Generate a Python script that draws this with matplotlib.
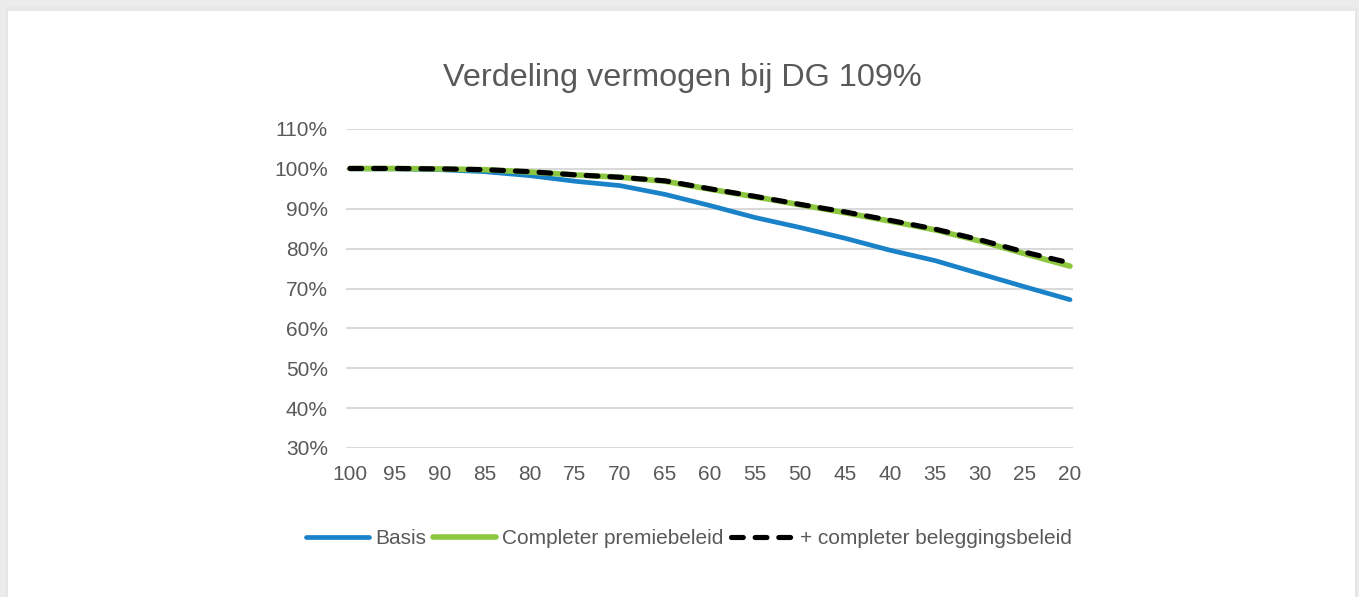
import matplotlib
matplotlib.use("Agg")
import matplotlib.pyplot as plt
from matplotlib.patches import Rectangle
from matplotlib.ticker import FuncFormatter

# Data
ages = [100, 95, 90, 85, 80, 75, 70, 65, 60, 55, 50, 45, 40, 35, 30, 25, 20]
basis = [100.0, 100.0, 99.8, 99.3, 98.3, 96.9, 95.8, 93.6, 90.8, 87.8, 85.3,
         82.6, 79.6, 77.0, 73.7, 70.4, 67.2]
premie = [100.1, 100.1, 100.0, 99.8, 99.2, 98.5, 97.9, 96.9, 94.9, 93.0, 91.0,
          89.0, 86.9, 84.7, 81.9, 78.7, 75.6]
belegging = [100.1, 100.1, 100.0, 99.8, 99.3, 98.5, 97.9, 97.0, 95.0, 93.1, 91.1,
             89.2, 87.1, 84.9, 82.2, 79.1, 76.4]
labels = ["Basis", "Completer premiebeleid", "+ completer beleggingsbeleid"]

plt.rcParams['font.family'] = ['Liberation Sans', 'DejaVu Sans']

W, H = 1359, 597
fig = plt.figure(figsize=(W / 100, H / 100), dpi=100)
fig.patch.set_facecolor('#ececec')

# white card with a soft shadow
for i, c in enumerate(['#e2e2e2', '#e8e8e8']):
    fig.patches.append(Rectangle(((6 + i) / W, 0), (1351 - 2 * i) / W, (H - 8 + i) / H,
                                 transform=fig.transFigure, facecolor=c, edgecolor='none', zorder=-2))
fig.patches.append(Rectangle((8 / W, 0), 1347 / W, (H - 11) / H,
                             transform=fig.transFigure, facecolor='white', edgecolor='none', zorder=-1))

ax = fig.add_axes([346 / W, 1 - 448 / H, (1073 - 346) / W, (448 - 129) / H])
ax.set_facecolor('none')

ax.plot(ages, basis, color='#1a82c8', lw=3.4, solid_capstyle='round', label=labels[0], zorder=3)
ax.plot(ages, premie, color='#8dc63f', lw=4.0, solid_capstyle='round', label=labels[1], zorder=4)
ax.plot(ages, belegging, color='black', lw=3.7, dashes=(2.3, 2.3), dash_capstyle='round',
        label=labels[2], zorder=5)

ax.set_xlim(100.44, 19.67)
ax.set_ylim(30, 110)
ax.set_xticks(ages)
ax.set_yticks(range(30, 111, 10))
ax.yaxis.set_major_formatter(FuncFormatter(lambda v, p: f"{v:.0f}%"))
ax.grid(axis='y', color='#d9d9d9', lw=1.5)
ax.set_axisbelow(True)
for s in ax.spines.values():
    s.set_visible(False)
ax.tick_params(length=0, labelsize=15, labelcolor='#595959')
ax.tick_params(axis='y', pad=13)
ax.tick_params(axis='x', pad=12)

fig.text(682 / W, 1 - 78 / H, "Verdeling vermogen bij DG 109%", ha='center', va='center',
         fontsize=23.3, color='#595959')

fig.legend(loc='center', bbox_to_anchor=(689 / W, 1 - 539 / H), ncol=3, frameon=False,
           fontsize=15, labelcolor='#595959', handlelength=3.0, handletextpad=0.3,
           columnspacing=0.35)

fig.savefig("out.png", dpi=100)
